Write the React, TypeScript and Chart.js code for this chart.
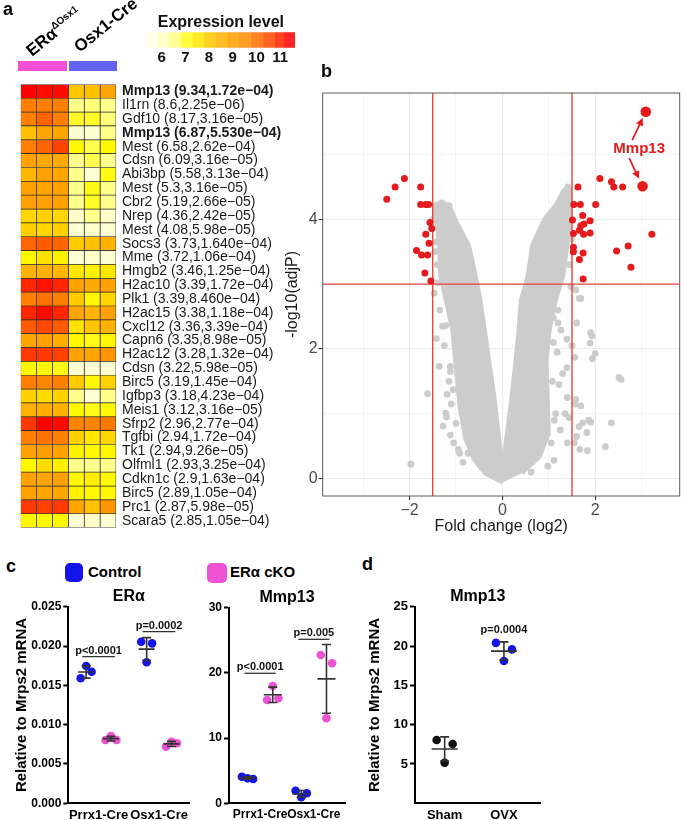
import React, { useEffect, useRef } from "react";
import { Chart, registerables } from "chart.js";

Chart.register(...registerables);
const FONT = "'Liberation Sans', Arial, Helvetica, sans-serif";
Chart.defaults.font.family = FONT;

// ================= Panel a : heatmap =================
const genes = ["Mmp13","Il1rn","Gdf10","Mmp13","Mest","Cdsn","Abi3bp","Mest","Cbr2","Nrep","Mest","Socs3","Mme","Hmgb2","H2ac10","Plk1","H2ac15","Cxcl12","Capn6","H2ac12","Cdsn","Birc5","Igfbp3","Meis1","Sfrp2","Tgfbi","Tk1","Olfml1","Cdkn1c","Birc5","Prc1","Scara5"];
const foldChangeText = ["9.34","8.6","8.17","6.87","6.58","6.09","5.58","5.3","5.19","4.36","4.08","3.73","3.72","3.46","3.39","3.39","3.38","3.36","3.35","3.28","3.22","3.19","3.18","3.12","2.96","2.94","2.94","2.93","2.9","2.89","2.87","2.85"];
const adjPText = ["1.72e\u221204","2.25e\u221206","3.16e\u221205","5.530e\u221204","2.62e\u221204","3.16e\u221205","3.13e\u221204","3.16e\u221205","2.66e\u221205","2.42e\u221205","5.98e\u221205","1.640e\u221204","1.06e\u221204","1.25e\u221204","1.72e\u221204","8.460e\u221204","1.18e\u221204","3.39e\u221204","8.98e\u221205","1.32e\u221204","5.98e\u221205","1.45e\u221204","4.23e\u221204","3.16e\u221205","2.77e\u221204","1.72e\u221204","9.26e\u221205","3.25e\u221204","1.63e\u221204","1.05e\u221204","5.98e\u221205","1.05e\u221204"];
const boldGene = "Mmp13";
// expression per sample (3 ERα cKO, 3 Osx1-Cre)
const ko1 = [11.3,9.8,9.8,8.2,9.8,8.9,8.4,8.9,8.9,7.8,7.9,10.2,7.2,8.5,10.9,9.8,10.9,10.3,8.8,10.7,7.2,9.8,7.9,8.5,10.7,9.8,8.9,7.2,8.9,8.9,10.7,7.2];
const ko2 = [11.2,9.8,10.2,8.8,10.2,8.7,8.9,8.8,8.9,7.9,7.8,10.3,7.6,8.5,11.1,10.0,11.2,10.5,8.9,10.7,7.2,9.6,7.7,8.6,11.3,10.0,9.0,7.7,8.8,8.8,10.6,7.2];
const ko3 = [11.2,9.8,9.8,8.8,10.6,8.7,8.8,8.9,8.9,7.8,7.9,10.2,7.3,8.4,10.9,9.8,10.9,10.3,8.6,10.6,7.1,9.8,7.9,8.5,11.2,9.8,8.9,7.3,8.9,8.8,10.7,7.2];
const cre1 = [8.1,6.5,7.0,5.9,7.2,6.5,6.5,6.5,6.5,6.0,5.9,8.0,5.9,7.5,8.9,8.0,8.8,7.6,7.2,8.9,5.9,8.0,6.5,7.2,9.7,7.9,7.3,6.5,7.2,7.3,8.8,5.9];
const cre2 = [8.2,6.6,7.0,5.9,6.8,6.8,5.9,7.1,7.0,6.5,6.0,8.2,6.0,7.3,8.7,7.2,8.5,8.1,7.1,8.8,5.9,7.2,5.9,7.1,9.7,7.5,7.2,6.5,7.4,7.2,8.2,6.0];
const cre3 = [8.8,6.5,6.6,6.5,7.2,6.5,7.1,6.5,6.5,6.0,5.9,8.5,5.9,7.5,8.9,7.8,8.9,8.5,7.2,9.3,5.9,7.9,6.5,7.2,9.9,7.8,7.2,6.5,7.2,7.2,9.2,5.9];
const sampleColumns = [ko1, ko2, ko3, cre1, cre2, cre3];
const colorBarBreaks = [5.37, 5.85, 6.3, 6.8, 7.3, 7.8, 8.3, 8.8, 9.3, 9.8, 10.3, 10.8, 11.2, 11.63];
const colorBarTicks = [6, 7, 8, 9, 10, 11];

// ================= Panel b : volcano =================
const coreFC = [0,-0.38,-0.62,-0.80,-0.92,-1.00,-1.08,-1.22,-1.34,-1.36,-1.42,-1.48,-1.30,-1.12,-0.98,-0.72,-0.58,-0.47,-0.38,-0.28,-0.16,-0.06,0,0.07,0.19,0.28,0.35,0.40,0.55,0.64,0.90,1.15,1.32,1.45,1.48,1.45,1.40,1.32,1.15,1.02,0.95,0.98,1.00,0.80,0.42];
const coreLogP = [-0.06,0.08,0.30,0.62,1.10,1.70,2.30,2.75,3.15,3.60,3.95,4.22,4.28,4.18,3.95,3.60,3.15,2.75,2.30,1.80,1.20,0.55,0.12,0.55,1.20,1.80,2.30,2.75,3.15,3.60,4.00,4.22,4.45,4.48,4.22,3.95,3.60,3.15,2.75,2.30,1.80,1.20,0.70,0.33,0.08];
const grayFC = [-1.42,-1.29,-1.22,-1.36,-1.12,-1.12,-1.61,-1.19,-1.06,-1.22,-1.28,-1.12,-0.92,-0.74,-1.97,-1.15,-1.29,-1.08,-1.42,-1.47,-1.22,-1.39,-1.20,-1.05,-0.85,
  -1.40,-1.45,-1.50,-1.35,-1.25,-1.15,-1.10,-1.00,-0.95,-1.18,-1.30,
  1.90,1.93,1.89,2.00,1.94,1.56,1.39,1.26,1.20,1.10,2.51,2.56,1.39,1.30,1.22,1.40,1.58,1.69,1.57,1.44,1.35,1.73,1.90,1.86,1.82,1.65,1.60,2.35,2.22,1.83,1.67,1.55,1.40,1.11,0.98,0.62,1.66,1.69,1.58,1.48,1.41,1.30,1.22,1.60,1.50,1.25,1.15,
  1.45,1.50,1.45,1.20,1.10,1.08,1.12,1.28,1.18,1.05];
const grayLogP = [2.16,2.35,2.36,1.73,1.73,1.65,1.31,1.30,1.37,1.01,0.81,0.67,0.39,0.39,0.22,4.21,3.89,3.92,3.65,2.86,3.04,3.02,0.95,0.55,0.25,
  3.30,3.50,4.00,2.60,2.05,1.50,1.15,0.85,0.45,2.80,3.80,
  2.25,2.20,2.09,1.93,1.85,1.87,2.15,2.29,2.40,2.48,1.56,1.53,1.71,1.62,1.45,1.25,1.22,1.12,1.15,0.94,1.00,0.86,0.87,0.90,0.71,0.80,0.65,0.86,0.49,0.43,0.45,0.55,0.55,0.28,0.19,0.10,2.78,2.78,2.91,2.96,4.50,4.23,4.23,2.40,2.05,0.75,1.00,
  3.30,3.70,4.05,2.60,2.10,1.50,0.90,3.45,1.95,0.55];
const sigFC = [-2.49,-2.31,-2.11,-1.76,-1.76,-1.65,-1.59,-1.56,-1.52,-1.65,-1.58,-1.85,-1.74,-1.61,-1.67,-1.54,
  1.63,2.10,2.35,2.40,2.59,1.68,2.01,1.54,1.73,1.51,1.89,1.76,1.69,1.66,1.53,1.75,1.89,3.22,1.53,1.53,1.74,1.66,2.46,2.71,2.77,1.74];
const sigLogP = [4.31,4.50,4.63,4.50,4.23,4.23,4.23,3.95,3.86,3.77,3.63,3.52,3.45,3.45,3.17,3.05,
  4.50,4.63,4.58,4.50,4.50,4.23,4.23,4.23,4.06,3.99,3.98,3.93,3.90,3.83,3.78,3.77,3.79,3.77,3.57,3.50,3.48,3.38,3.51,3.59,3.26,3.08];
const mmp13Name = "Mmp13";
const mmp13FC = [3.09, 3.02];
const mmp13LogP = [5.66, 4.51];
const fcThreshold = 1.5;
const pThreshold = 3;
const volcanoXTicks = [-3, -2, -1, 0, 1, 2, 3];
const volcanoYTicks = [0, 1, 2, 3, 4, 5];

// ================= Panel c =================
const cCategories = ["Prrx1-Cre", "Osx1-Cre"];
const eraControl = [[0.0159, 0.01746, 0.01673], [0.02055, 0.01793, 0.02034]];
const eraCKO = [[0.00805, 0.00856, 0.00805], [0.0072, 0.00783, 0.00763]];
const eraPText = ["p<0.0001", "p=0.0002"];
const eraPLevel = [0.01864, 0.02182];
const mmpControl = [[4.08, 3.83, 3.73], [1.93, 0.92, 1.53]];
const mmpCKO = [[15.84, 17.99, 16.1], [22.75, 13.04, 21.47]];
const mmpPText = ["p<0.0001", "p=0.005"];
const mmpPLevel = [19.94, 25.15];

// ================= Panel d =================
const dCategories = ["Sham", "OVX"];
const dSham = [8.04, 5.16, 7.53];
const dOVX = [20.4, 18.1, 19.57];
const dPText = "p=0.0004";
const dPLevel = 22.2;

// ================= styling helpers =================
const BLUE = "#1414E8";
const PINK = "#EE52D4";
const RED = "#E41A1C";
const LINE_RED = "#E8443D";
const GRAY = "#CCCCCC";
const ERA = "ER\u03b1";

const cmapStops: [number, number[]][] = [
  [5.4, [255, 255, 232]], [5.9, [255, 255, 212]], [6.5, [255, 255, 140]], [7.2, [255, 248, 0]],
  [8.2, [255, 192, 0]], [8.8, [255, 165, 0]], [9.8, [255, 128, 0]], [10.2, [255, 100, 0]],
  [10.8, [255, 48, 0]], [11.3, [255, 0, 0]], [11.9, [235, 0, 0]],
];
function heatColor(v: number, alpha = 1) {
  let c = cmapStops[cmapStops.length - 1][1];
  if (v <= cmapStops[0][0]) c = cmapStops[0][1];
  for (let i = 0; i < cmapStops.length - 1; i++) {
    const [a, ca] = cmapStops[i];
    const [b, cb] = cmapStops[i + 1];
    if (v >= a && v <= b) {
      const t = (v - a) / (b - a);
      c = ca.map((x, k) => Math.round(x + (cb[k] - x) * t));
      break;
    }
  }
  return `rgba(${c[0]},${c[1]},${c[2]},${alpha})`;
}
const fmtMinus = (v: number) => (v < 0 ? "\u2212" + Math.abs(v) : String(v));

// ================= chart configs =================
function heatmapConfig(): any {
  const labels = genes.map((g, i) => `${g} (${foldChangeText[i]},${adjPText[i]})`);
  return {
    type: "bar",
    data: {
      labels,
      datasets: sampleColumns.map((col, j) => ({
        data: col.map(() => [j, j + 1]),
        backgroundColor: col.map((v) => heatColor(v)),
        borderColor: "#2a2a2a",
        borderWidth: 0.7,
        borderSkipped: false,
        grouped: false,
        barPercentage: 1,
        categoryPercentage: 1,
      })),
    },
    options: {
      indexAxis: "y",
      responsive: false,
      animation: false,
      devicePixelRatio: 1,
      layout: { padding: { left: 20.7, top: 4, bottom: 5, right: 0 } },
      plugins: { legend: { display: false }, tooltip: { enabled: false } },
      scales: {
        x: { type: "linear", min: 0, max: sampleColumns.length, display: false },
        y: {
          type: "category",
          position: "right",
          grid: { display: false, drawTicks: false },
          border: { display: false },
          ticks: {
            autoSkip: false,
            padding: 6,
            color: "#1a1a1a",
            font: (c: any) => ({ size: 14, family: FONT, weight: genes[c.index] === boldGene ? "bold" : "normal" }),
          },
          afterFit: (s: any) => { s.width = 184; },
        },
      },
    },
  };
}

function colorBarConfig(): any {
  const segs = colorBarBreaks.slice(0, -1).map((lo, i) => [lo, colorBarBreaks[i + 1]]);
  return {
    type: "bar",
    data: {
      labels: [""],
      datasets: segs.map(([lo, hi]) => ({
        data: [[lo, hi]],
        backgroundColor: heatColor((lo + hi) / 2, 0.85),
        borderWidth: 0,
        grouped: false,
        barPercentage: 1,
        categoryPercentage: 1,
      })),
    },
    options: {
      indexAxis: "y",
      responsive: false,
      animation: false,
      devicePixelRatio: 1,
      layout: { padding: { left: 6.7, right: 10, top: 0, bottom: 0 } },
      plugins: {
        legend: { display: false },
        tooltip: { enabled: false },
        title: { display: true, text: "Expression level", font: { size: 16, weight: "bold" }, color: "#111", padding: { top: 13, bottom: 0 } },
      },
      scales: {
        x: {
          type: "linear",
          min: colorBarBreaks[0],
          max: colorBarBreaks[colorBarBreaks.length - 1],
          afterBuildTicks: (s: any) => { s.ticks = colorBarTicks.map((v) => ({ value: v })); },
          ticks: { font: { size: 15, weight: "bold" }, color: "#111", padding: 1, maxRotation: 0 },
          grid: { display: false, drawTicks: false },
          border: { display: false },
          afterFit: (s: any) => { s.height = 22.3; },
        },
        y: { display: false },
      },
    },
  };
}

function drawArrow(ctx: CanvasRenderingContext2D, x0: number, y0: number, x1: number, y1: number, stop: number) {
  const dx = x1 - x0, dy = y1 - y0, L = Math.hypot(dx, dy);
  const ux = dx / L, uy = dy / L;
  const ex = x1 - ux * stop, ey = y1 - uy * stop;
  ctx.beginPath();
  ctx.moveTo(x0, y0);
  ctx.lineTo(ex - ux * 5, ey - uy * 5);
  ctx.stroke();
  const hl = 7.5, hw = 3.8;
  ctx.beginPath();
  ctx.moveTo(ex, ey);
  ctx.lineTo(ex - ux * hl - uy * hw, ey - uy * hl + ux * hw);
  ctx.lineTo(ex - ux * hl + uy * hw, ey - uy * hl - ux * hw);
  ctx.closePath();
  ctx.fill();
}

function volcanoConfig(): any {
  const pts = (xs: number[], ys: number[]) => xs.map((x, i) => ({ x, y: ys[i] }));
  const xLo = -3.87, xHi = 3.82, yLo = -0.27, yHi = 5.95;
  const isMajor = (c: any) => c.tick && Math.abs(c.tick.value % 2) === 0;
  const decor = {
    id: "volcanoDecor",
    afterDatasetsDraw(chart: any) {
      const { ctx, chartArea: a, scales } = chart;
      const x = scales.x, y = scales.y;
      ctx.save();
      ctx.strokeStyle = "#5a5a5a";
      ctx.lineWidth = 1;
      ctx.strokeRect(a.left, a.top, a.right - a.left, a.bottom - a.top);
      const p1 = { x: x.getPixelForValue(mmp13FC[0]), y: y.getPixelForValue(mmp13LogP[0]) };
      const p2 = { x: x.getPixelForValue(mmp13FC[1]), y: y.getPixelForValue(mmp13LogP[1]) };
      const tx = (p1.x + p2.x) / 2 - 5, ty = (p1.y + p2.y) / 2;
      ctx.fillStyle = RED;
      ctx.strokeStyle = RED;
      ctx.lineWidth = 1.7;
      ctx.font = `bold 15px ${FONT}`;
      ctx.textAlign = "center";
      ctx.textBaseline = "middle";
      ctx.fillText(mmp13Name, tx, ty);
      drawArrow(ctx, tx - 7, ty - 9, p1.x, p1.y, 7);
      drawArrow(ctx, tx - 10, ty + 9, p2.x, p2.y, 8.5);
      ctx.restore();
    },
  };
  const axisCommon = (ticks: number[]) => ({
    type: "linear",
    afterBuildTicks: (s: any) => { s.ticks = ticks.map((v) => ({ value: v })); },
    ticks: {
      callback: (v: number) => (Math.abs(v % 2) === 0 ? fmtMinus(v) : ""),
      font: { size: 16 },
      color: "#4D4D4D",
      padding: 1,
      maxRotation: 0,
      autoSkip: false,
    },
    grid: {
      color: "#EBEBEB",
      lineWidth: (c: any) => (isMajor(c) ? 1.1 : 0.55),
      tickColor: (c: any) => (isMajor(c) ? "#333" : "rgba(0,0,0,0)"),
      tickLength: 4,
      tickWidth: 1.1,
    },
    border: { display: false },
  });
  const lineDs = (data: any[]) => ({
    type: "line",
    data,
    borderColor: LINE_RED,
    borderWidth: 1.4,
    pointRadius: 0,
    fill: false,
    order: 3,
  });
  return {
    type: "scatter",
    data: {
      datasets: [
        { data: pts(mmp13FC, mmp13LogP), pointRadius: 5.3, pointBackgroundColor: RED, pointBorderWidth: 0, order: 1 },
        { data: pts(sigFC, sigLogP), pointRadius: 3.5, pointBackgroundColor: RED, pointBorderWidth: 0, order: 2 },
        lineDs([{ x: -fcThreshold, y: yLo }, { x: -fcThreshold, y: yHi }]),
        lineDs([{ x: fcThreshold, y: yLo }, { x: fcThreshold, y: yHi }]),
        lineDs([{ x: xLo, y: pThreshold }, { x: xHi, y: pThreshold }]),
        { data: pts(grayFC, grayLogP), pointRadius: 3.4, pointBackgroundColor: GRAY, pointBorderWidth: 0, order: 8 },
        {
          type: "line",
          data: pts(coreFC, coreLogP),
          borderColor: GRAY,
          backgroundColor: GRAY,
          borderWidth: 4,
          borderJoinStyle: "round",
          pointRadius: 0,
          tension: 0,
          fill: "shape",
          order: 9,
        },
      ],
    },
    options: {
      responsive: false,
      animation: false,
      devicePixelRatio: 1,
      layout: { padding: { top: 33, right: 2, left: 0, bottom: 0 } },
      plugins: { legend: { display: false }, tooltip: { enabled: false } },
      scales: {
        x: {
          ...axisCommon(volcanoXTicks),
          min: xLo,
          max: xHi,
          title: { display: true, text: "Fold change (log2)", font: { size: 16 }, color: "#1A1A1A", padding: { top: 0, bottom: 3.4 } },
          afterFit: (s: any) => { s.height = 44; },
        },
        y: {
          ...axisCommon(volcanoYTicks),
          min: yLo,
          max: yHi,
          title: { display: true, text: "-log10(adjP)", font: { size: 16 }, color: "#1A1A1A", padding: { top: 3.4, bottom: 0 } },
          afterFit: (s: any) => { s.width = 42.7; },
        },
      },
    },
    plugins: [decor],
  };
}

type Series = { values: number[][]; color: string; offset: number };
type Bracket = { cat: number; half: number; level: number; text: string; line: boolean };
function dotConfig(o: {
  cats: string[]; series: Series[]; xMin: number; xMax: number; yMin: number; yMax: number; yStep: number;
  fmt: (v: number) => string; title: string; titlePadTop: number; yTitle?: string; yTitlePad?: number;
  yAxisWidth: number; padRight: number; tickFont: number; catFont: number; jitter: number;
  meanHalf: number; capHalf: number; brackets: Bracket[];
}): any {
  const pattern = [-1, 0, 1];
  const datasets = o.series.map((s) => ({
    data: s.values.flatMap((vals, ci) => vals.map((v, k) => ({ x: ci + s.offset + pattern[k] * o.jitter, y: v }))),
    pointRadius: 4.3,
    pointBackgroundColor: s.color,
    pointBorderWidth: 0,
  }));
  const decor = {
    id: "dotDecor",
    afterDatasetsDraw(chart: any) {
      const { ctx, scales } = chart;
      const xs = scales.x, ys = scales.y;
      ctx.save();
      ctx.strokeStyle = "#333";
      ctx.lineWidth = 1.6;
      o.series.forEach((s) => {
        s.values.forEach((vals, ci) => {
          const n = vals.length;
          if (n < 2) return;
          const mean = vals.reduce((a, b) => a + b, 0) / n;
          const sd = Math.sqrt(vals.reduce((a, b) => a + (b - mean) * (b - mean), 0) / (n - 1));
          const cx = xs.getPixelForValue(ci + s.offset);
          const ym = ys.getPixelForValue(mean), yt = ys.getPixelForValue(mean + sd), yb = ys.getPixelForValue(mean - sd);
          ctx.beginPath();
          ctx.moveTo(cx - o.meanHalf, ym); ctx.lineTo(cx + o.meanHalf, ym);
          ctx.moveTo(cx, yt); ctx.lineTo(cx, yb);
          ctx.moveTo(cx - o.capHalf, yt); ctx.lineTo(cx + o.capHalf, yt);
          ctx.moveTo(cx - o.capHalf, yb); ctx.lineTo(cx + o.capHalf, yb);
          ctx.stroke();
        });
      });
      o.brackets.forEach((b) => {
        const x1 = xs.getPixelForValue(b.cat - b.half), x2 = xs.getPixelForValue(b.cat + b.half);
        const y = ys.getPixelForValue(b.level);
        if (b.line) {
          ctx.strokeStyle = "#333";
          ctx.lineWidth = 1.3;
          ctx.beginPath(); ctx.moveTo(x1, y); ctx.lineTo(x2, y); ctx.stroke();
        }
        ctx.fillStyle = "#111";
        ctx.font = `bold 11px ${FONT}`;
        ctx.textAlign = "center";
        ctx.textBaseline = "alphabetic";
        ctx.fillText(b.text, (x1 + x2) / 2, b.line ? y - 3 : y + 4);
      });
      ctx.restore();
    },
  };
  return {
    type: "scatter",
    data: { datasets },
    options: {
      responsive: false,
      animation: false,
      devicePixelRatio: 1,
      layout: { padding: { top: 0, right: o.padRight, left: 0, bottom: 0 } },
      plugins: {
        legend: { display: false },
        tooltip: { enabled: false },
        title: { display: true, text: o.title, fullSize: false, font: { size: 16, weight: "bold" }, color: "#000", padding: { top: o.titlePadTop, bottom: 0.5 } },
      },
      scales: {
        x: {
          type: "linear",
          min: o.xMin,
          max: o.xMax,
          afterBuildTicks: (s: any) => { s.ticks = o.cats.map((_, i) => ({ value: i })); },
          ticks: { callback: (v: number) => o.cats[v] ?? "", font: { size: o.catFont, weight: "bold" }, color: "#000", padding: 4, maxRotation: 0, autoSkip: false },
          grid: { display: false, drawTicks: false },
          border: { display: true, color: "#000", width: 2 },
          afterFit: (s: any) => { s.height = 16.7; },
        },
        y: {
          type: "linear",
          min: o.yMin,
          max: o.yMax,
          ticks: { stepSize: o.yStep, callback: (v: number) => o.fmt(v), font: { size: o.tickFont, weight: "bold" }, color: "#000", padding: 2 },
          grid: {
            drawOnChartArea: false,
            drawTicks: true,
            tickLength: 5,
            tickWidth: 2,
            tickColor: (c: any) => (c.tick && o.fmt(c.tick.value) === "" ? "rgba(0,0,0,0)" : "#000"),
          },
          border: { display: true, color: "#000", width: 2 },
          title: o.yTitle
            ? { display: true, text: o.yTitle, font: { size: 15, weight: "bold" }, color: "#000", padding: { top: o.yTitlePad ?? 0, bottom: 0 } }
            : { display: false },
          afterFit: (s: any) => { s.width = o.yAxisWidth; },
        },
      },
    },
    plugins: [decor],
  };
}

const eraConfig = () =>
  dotConfig({
    cats: cCategories,
    series: [
      { values: eraControl, color: BLUE, offset: -0.205 },
      { values: eraCKO, color: PINK, offset: 0.205 },
    ],
    xMin: -0.5, xMax: 1.5, yMin: 0, yMax: 0.025, yStep: 0.005,
    fmt: (v) => v.toFixed(3),
    title: ERA, titlePadTop: 2,
    yTitle: "Relative to Mrps2 mRNA", yTitlePad: 13,
    yAxisWidth: 68.3, padRight: 10.7, tickFont: 12, catFont: 13, jitter: 0.09,
    meanHalf: 8, capHalf: 4.5,
    brackets: eraPText.map((t, i) => ({ cat: i, half: 0.27, level: eraPLevel[i], text: t, line: true })),
  });

const mmpConfig = () =>
  dotConfig({
    cats: cCategories,
    series: [
      { values: mmpControl, color: BLUE, offset: -0.235 },
      { values: mmpCKO, color: PINK, offset: 0.235 },
    ],
    xMin: -0.58, xMax: 1.58, yMin: 0, yMax: 30, yStep: 10,
    fmt: (v) => String(v),
    title: "Mmp13", titlePadTop: 3,
    yAxisWidth: 29, padRight: 5, tickFont: 12, catFont: 12, jitter: 0.105,
    meanHalf: 9, capHalf: 4.5,
    brackets: mmpPText.map((t, i) => ({ cat: i, half: 0.29, level: mmpPLevel[i], text: t, line: true })),
  });

const dConfig = () =>
  dotConfig({
    cats: dCategories,
    series: [
      { values: [dSham, []], color: "#111", offset: 0 },
      { values: [[], dOVX], color: BLUE, offset: 0 },
    ],
    xMin: -0.5, xMax: 1.62, yMin: 0, yMax: 25, yStep: 5,
    fmt: (v) => (v === 0 ? "" : String(v)),
    title: "Mmp13", titlePadTop: 2,
    yTitle: "Relative to Mrps2 mRNA", yTitlePad: 11,
    yAxisWidth: 60, padRight: 14.3, tickFont: 13, catFont: 13, jitter: 0.135,
    meanHalf: 13, capHalf: 4.5,
    brackets: [{ cat: 1, half: 0.2, level: dPLevel, text: dPText, line: false }],
  });

// ================= components =================
function ChartBox({ make, left, top, width, height }: { make: () => any; left: number; top: number; width: number; height: number }) {
  const ref = useRef<HTMLCanvasElement>(null);
  useEffect(() => {
    const chart = new Chart(ref.current as HTMLCanvasElement, make());
    return () => chart.destroy();
  }, []);
  return <canvas ref={ref} width={width} height={height} style={{ position: "absolute", left, top, width, height }} />;
}

function Txt({ left, top, size, children, bold = true, style }: any) {
  return (
    <div style={{ position: "absolute", left, top, fontSize: size, lineHeight: `${size}px`, fontWeight: bold ? "bold" : "normal", whiteSpace: "nowrap", color: "#000", ...style }}>
      {children}
    </div>
  );
}

export default function App() {
  return (
    <div style={{ position: "absolute", left: 0, top: 0, width: 685, height: 820, overflow: "hidden", background: "#fff", fontFamily: FONT }}>
      <ChartBox make={heatmapConfig} left={0} top={70} width={300} height={472} />
      <ChartBox make={colorBarConfig} left={140} top={0} width={165} height={70} />
      <ChartBox make={volcanoConfig} left={280} top={60} width={405} height={480} />
      <ChartBox make={eraConfig} left={0} top={585} width={200} height={235} />
      <ChartBox make={mmpConfig} left={200} top={585} width={150} height={235} />
      <ChartBox make={dConfig} left={355} top={585} width={200} height={235} />

      {/* panel a headers */}
      <div style={{ position: "absolute", left: 18.3, top: 61, width: 49, height: 10, background: "#F24FD6" }} />
      <div style={{ position: "absolute", left: 68.5, top: 61, width: 48, height: 10, background: "#6262F5" }} />
      <Txt left={29} top={38.9} size={17} style={{ transformOrigin: "0 14.4px", transform: "rotate(-39deg)" }}>
        {ERA}
        <span style={{ fontSize: 10, verticalAlign: "7px" }}>{"\u0394Osx1"}</span>
      </Txt>
      <Txt left={80} top={38.9} size={17} style={{ transformOrigin: "0 14.4px", transform: "rotate(-39deg)" }}>
        {"Osx1-Cre"}
      </Txt>

      {/* panel letters */}
      <Txt left={3} top={0} size={18}>a</Txt>
      <Txt left={321} top={61.5} size={18}>b</Txt>
      <Txt left={6} top={556.8} size={18}>c</Txt>
      <Txt left={362} top={554.8} size={18}>d</Txt>

      {/* panel c legend */}
      <div style={{ position: "absolute", left: 65, top: 563, width: 18, height: 19, borderRadius: 5, background: BLUE }} />
      <Txt left={88} top={564.3} size={15}>Control</Txt>
      <div style={{ position: "absolute", left: 207, top: 563, width: 20, height: 20, borderRadius: 5, background: PINK }} />
      <Txt left={230} top={564.3} size={15}>{ERA + " cKO"}</Txt>
    </div>
  );
}
